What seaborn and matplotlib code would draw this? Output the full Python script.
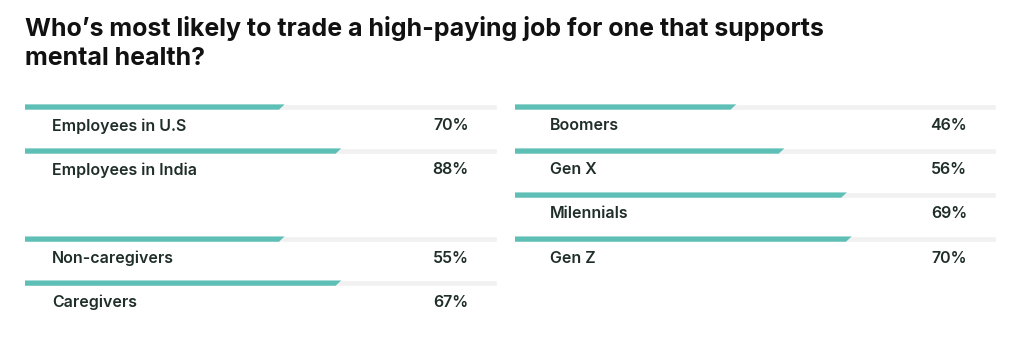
import numpy as np
import pandas as pd
import seaborn as sns
import matplotlib.pyplot as plt
from matplotlib.patches import Polygon

# left column
left_labels = ["Employees in U.S", "Employees in India", "Non-caregivers", "Caregivers"]
left_values = [70, 88, 55, 67]
left_bars = [55, 67, 55, 67]   # bar lengths as drawn in the source graphic
left_slots = [0, 1, 3, 4]

# right column
right_labels = ["Boomers", "Gen X", "Milennials", "Gen Z"]
right_values = [46, 56, 69, 70]
right_bars = [46, 56, 69, 70]
right_slots = [0, 1, 2, 3]

title = "Who\u2019s most likely to trade a high-paying job for one that supports\nmental health?"

sns.set_theme(style="white")
plt.rcParams["font.family"] = ["Inter", "DejaVu Sans"]

teal = "#5dbfb5"
track = "#f1f1f1"
ink = "#1f2e29"

fig = plt.figure(figsize=(10.24, 3.43), dpi=100)
fig.text(25 / 1024, 1 - 16 / 343, title, fontsize=18, fontweight="bold",
         color="#111111", va="top", ha="left", linespacing=1.32)


def draw_column(ax, labels, values, bars, slots, x_label):
    df = pd.DataFrame({"label": labels, "value": values, "bar": bars, "slot": slots})
    df["full"] = 100
    h = 0.12
    sns.barplot(data=df, x="full", y="slot", orient="h", native_scale=True,
                color=track, width=h, ax=ax, saturation=1)
    n_track = len(ax.patches)
    sns.barplot(data=df, x="bar", y="slot", orient="h", native_scale=True,
                color=teal, width=h, ax=ax, saturation=1)
    # slanted right end on the teal bars
    for p in list(ax.patches[n_track:]):
        x0, y0 = p.get_x(), p.get_y()
        w, hh = p.get_width(), p.get_height()
        d = 1.2
        y_top, y_bot = min(y0, y0 + hh), max(y0, y0 + hh)
        poly = Polygon([(x0, y_top), (x0 + w, y_top), (x0 + w - d, y_bot), (x0, y_bot)],
                       closed=True, facecolor=teal, edgecolor="none")
        p.remove()
        ax.add_patch(poly)
    for _, r in df.iterrows():
        ax.text(x_label, r["slot"] + 0.43, r["label"], fontsize=11.5, fontweight="semibold",
                color=ink, va="center", ha="left")
        ax.text(94, r["slot"] + 0.43, f"{r['value']}%", fontsize=11.5, fontweight="semibold",
                color=ink, va="center", ha="right")
    ax.set_xlim(0, 100)
    ax.set_ylim(5.36, -0.5)
    ax.set_axis_off()


ax_l = fig.add_axes([25 / 1024, 0, 472 / 1024, (343 - 85) / 343])
draw_column(ax_l, left_labels, left_values, left_bars, left_slots, 5.7)

ax_r = fig.add_axes([515 / 1024, 0, 481 / 1024, (343 - 85) / 343])
draw_column(ax_r, right_labels, right_values, right_bars, right_slots, 7.3)

fig.savefig("out.png", dpi=100)
